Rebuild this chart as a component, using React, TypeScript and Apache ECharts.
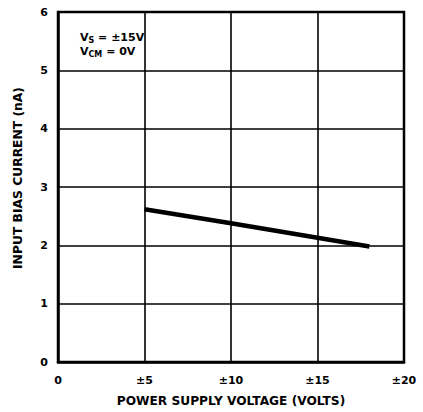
import React, { useEffect, useRef } from "react";
import * as echarts from "echarts";

const xTicks = [0, 5, 10, 15, 20];
const xTickLabels = ["0", "±5", "±10", "±15", "±20"];
const yTicks = [0, 1, 2, 3, 4, 5, 6];
const supplyVoltage = [5, 10, 15, 18];
const biasCurrent = [2.62, 2.38, 2.13, 1.98];

export default function App() {
  const ref = useRef<HTMLDivElement>(null);
  useEffect(() => {
    if (!ref.current) return;
    const chart = echarts.init(ref.current, null, { renderer: "svg" });
    const font = "'DejaVu Sans', sans-serif";
    chart.setOption({
      animation: false,
      backgroundColor: "#fff",
      grid: {
        left: 58,
        top: 12,
        right: 19,
        bottom: 50,
        show: true,
        borderColor: "#000",
        borderWidth: 2.5,
        containLabel: false,
      },
      xAxis: {
        type: "value",
        min: 0,
        max: 20,
        interval: 5,
        name: "POWER SUPPLY VOLTAGE (VOLTS)",
        nameLocation: "middle",
        nameGap: 33,
        nameTextStyle: { fontFamily: font, fontWeight: "bold", fontSize: 12.2, color: "#000" },
        axisLine: { show: true, lineStyle: { color: "#000", width: 2.5 } },
        axisTick: { show: false },
        axisLabel: {
          margin: 13,
          fontFamily: font,
          fontWeight: "bold",
          fontSize: 11,
          color: "#000",
          formatter: (v: number) => xTickLabels[xTicks.indexOf(v)] ?? String(v),
        },
        splitLine: { show: true, lineStyle: { color: "#000", width: 1.6 } },
      },
      yAxis: {
        type: "value",
        min: yTicks[0],
        max: yTicks[yTicks.length - 1],
        interval: 1,
        name: "INPUT BIAS CURRENT (nA)",
        nameLocation: "middle",
        nameGap: 34,
        nameTextStyle: {
          fontFamily: font,
          fontWeight: "bold",
          fontSize: 12.3,
          color: "#000",
          padding: [0, 0, 0, 18],
        },
        axisLine: { show: true, lineStyle: { color: "#000", width: 2.5 } },
        axisTick: { show: false },
        axisLabel: {
          margin: 10,
          fontFamily: font,
          fontWeight: "bold",
          fontSize: 11,
          color: "#000",
        },
        splitLine: { show: true, lineStyle: { color: "#000", width: 1.6 } },
      },
      graphic: [
        {
          type: "text",
          left: 80,
          top: 32,
          style: {
            text: "{m|V}{s|S}{m| = ±15V}\n{m|V}{s|CM}{m| = 0V}",
            rich: {
              m: { fontFamily: font, fontWeight: "bold", fontSize: 11, fill: "#000", lineHeight: 14 },
              s: { fontFamily: font, fontWeight: "bold", fontSize: 8, fill: "#000", verticalAlign: "bottom", lineHeight: 14, padding: [4, 0, 0, 0] },
            },
          },
        },
      ],
      series: [
        {
          type: "line",
          data: supplyVoltage.map((v, i) => [v, biasCurrent[i]]),
          showSymbol: false,
          lineStyle: { color: "#000", width: 4.5 },
          z: 5,
        },
      ],
    });
    return () => chart.dispose();
  }, []);
  return (
    <div
      ref={ref}
      style={{ position: "absolute", left: 0, top: 0, width: 423, height: 412 }}
    />
  );
}
